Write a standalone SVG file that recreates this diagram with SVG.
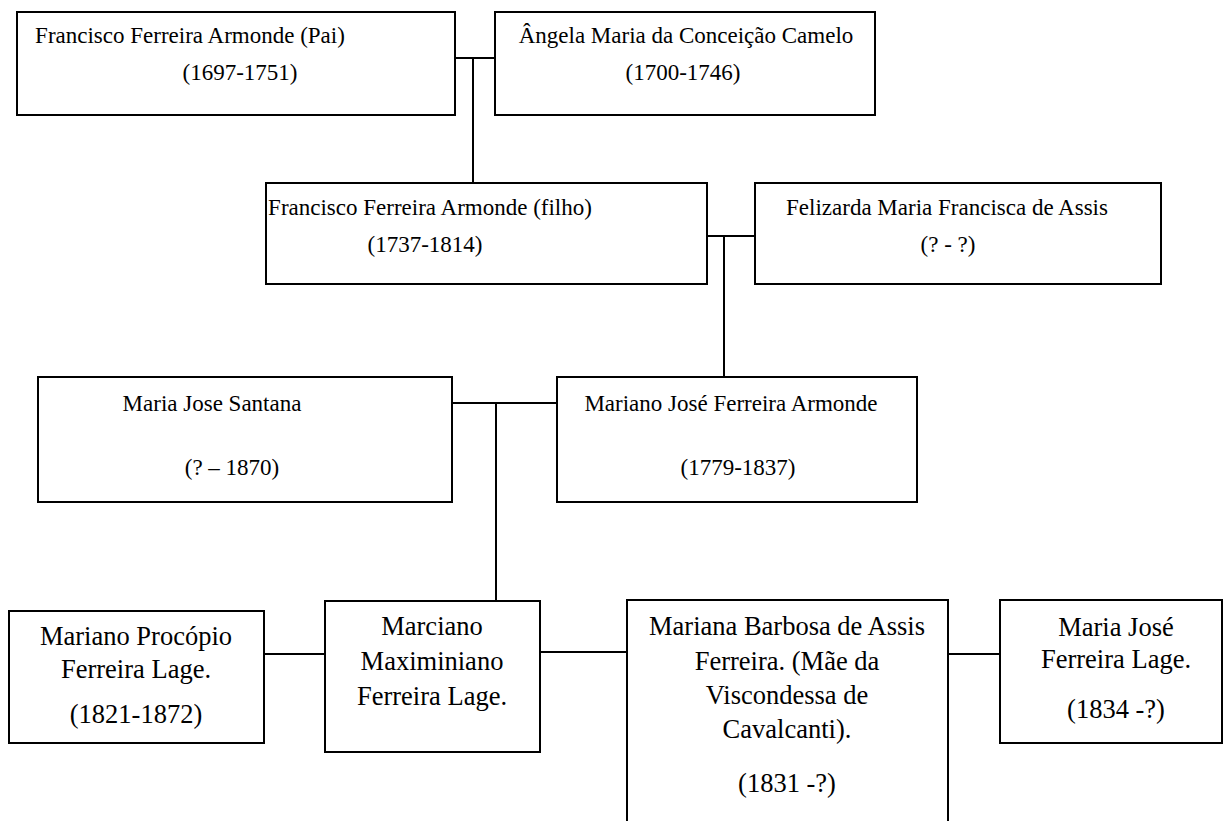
<svg xmlns="http://www.w3.org/2000/svg" width="1227" height="821" viewBox="0 0 1227 821">
<style>
rect{fill:#fff;stroke:#000;stroke-width:2}
.c line{stroke:#000;stroke-width:2}
text{font-family:"Liberation Serif","Times New Roman",serif;font-size:23px;fill:#000;text-anchor:middle}
.b text{font-size:26.5px}
</style>
<rect x="0" y="0" width="1227" height="821" style="stroke:none"/>
<g class="c" id="connectors">
<line x1="455" y1="58" x2="495" y2="58"/>
<line x1="473" y1="58" x2="473" y2="183"/>
<line x1="707" y1="236" x2="755" y2="236"/>
<line x1="724" y1="236" x2="724" y2="377"/>
<line x1="452" y1="403" x2="557" y2="403"/>
<line x1="496" y1="403" x2="496" y2="601"/>
<line x1="264" y1="654" x2="325" y2="654"/>
<line x1="540" y1="652" x2="627" y2="652"/>
<line x1="948" y1="654" x2="1000" y2="654"/>
</g>
<g id="n1"><rect x="17" y="12" width="438" height="103"/>
<text x="190" y="43">Francisco Ferreira Armonde (Pai)</text>
<text x="240" y="80">(1697-1751)</text></g>
<g id="n2"><rect x="495" y="12" width="380" height="103"/>
<text x="686" y="43">Ângela Maria da Conceição Camelo</text>
<text x="683" y="80">(1700-1746)</text></g>
<g id="n3"><rect x="266" y="183" width="441" height="101"/>
<text x="430" y="215">Francisco Ferreira Armonde (filho)</text>
<text x="425" y="252">(1737-1814)</text></g>
<g id="n4"><rect x="755" y="183" width="406" height="101"/>
<text x="947" y="215">Felizarda Maria Francisca de Assis</text>
<text x="948" y="252">(? - ?)</text></g>
<g id="n5"><rect x="38" y="377" width="414" height="125"/>
<text x="212" y="411">Maria Jose Santana</text>
<text x="232" y="475">(? – 1870)</text></g>
<g id="n6"><rect x="557" y="377" width="360" height="125"/>
<text x="731" y="411">Mariano José Ferreira Armonde</text>
<text x="738" y="475">(1779-1837)</text></g>
<g id="n7" class="b"><rect x="9" y="611" width="255" height="132"/>
<text x="136" y="645">Mariano Procópio</text>
<text x="136" y="678">Ferreira Lage.</text>
<text x="136" y="723">(1821-1872)</text></g>
<g id="n8" class="b"><rect x="325" y="601" width="215" height="151"/>
<text x="432" y="635">Marciano</text>
<text x="432" y="670">Maximiniano</text>
<text x="432" y="705">Ferreira Lage.</text></g>
<g id="n9" class="b"><rect x="627" y="600" width="321" height="240"/>
<text x="787" y="635">Mariana Barbosa de Assis</text>
<text x="787" y="670">Ferreira. (Mãe da</text>
<text x="787" y="704">Viscondessa de</text>
<text x="787" y="738">Cavalcanti).</text>
<text x="787" y="792">(1831 -?)</text></g>
<g id="n10" class="b"><rect x="1000" y="600" width="222" height="143"/>
<text x="1116" y="636">Maria José</text>
<text x="1116" y="668">Ferreira Lage.</text>
<text x="1116" y="718">(1834 -?)</text></g>
</svg>
